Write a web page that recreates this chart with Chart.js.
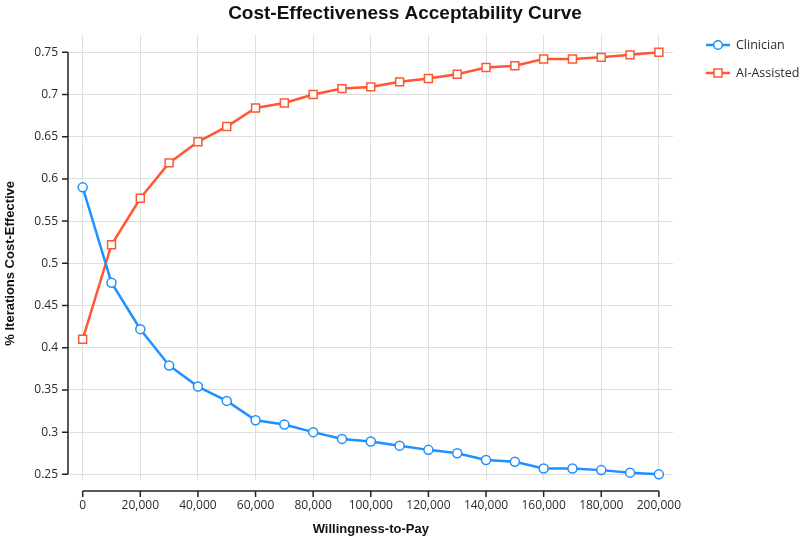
<!DOCTYPE html>
<html>
<head>
<meta charset="utf-8">
<script src="https://cdn.jsdelivr.net/npm/chart.js@4/dist/chart.umd.min.js"></script>
<style>
  html, body { margin: 0; padding: 0; background: #ffffff; }
  #wrap { width: 800px; height: 540px; }
</style>
</head>
<body>
<div id="wrap"><canvas id="c" width="800" height="540"></canvas></div>
<script>
// ---- Data ----
const wtp = [0, 10000, 20000, 30000, 40000, 50000, 60000, 70000, 80000, 90000, 100000,
             110000, 120000, 130000, 140000, 150000, 160000, 170000, 180000, 190000, 200000];
const clinician = [0.590, 0.477, 0.422, 0.379, 0.354, 0.337, 0.314, 0.309, 0.300, 0.292, 0.289,
                   0.284, 0.279, 0.275, 0.267, 0.265, 0.257, 0.257, 0.255, 0.252, 0.250];
const aiAssisted = [0.410, 0.522, 0.577, 0.619, 0.644, 0.662, 0.684, 0.690, 0.700, 0.707, 0.709,
                    0.715, 0.719, 0.724, 0.732, 0.734, 0.742, 0.742, 0.744, 0.747, 0.750];
const seriesNames = ["Clinician", "AI-Assisted"];
const xTicks = [0, 20000, 40000, 60000, 80000, 100000, 120000, 140000, 160000, 180000, 200000];
const yTicks = [0.25, 0.3, 0.35, 0.4, 0.45, 0.5, 0.55, 0.6, 0.65, 0.7, 0.75];
const titleText = "Cost-Effectiveness Acceptability Curve";
const xTitle = "Willingness-to-Pay";
const yTitle = "% Iterations Cost-Effective";

const BLUE = "#1E90FF";
const RED = "#FF5733";
const TEXT = "#2b2b2b";
const AXIS = "#222222";
const GRID = "#dedede";
const tickFont = { family: "'Open Sans', 'Noto Sans', sans-serif", size: 12 };

function toPoints(xs, ys) { return xs.map((x, i) => ({ x: x, y: ys[i] })); }

const decorPlugin = {
  id: 'decor',
  afterDraw(chart) {
    const ctx = chart.ctx;
    const xs = chart.scales.x, ys = chart.scales.y;
    const area = chart.chartArea;
    ctx.save();
    // Y axis line and ticks
    ctx.strokeStyle = AXIS;
    ctx.lineWidth = 1.5;
    const yTop = ys.getPixelForValue(yTicks[yTicks.length - 1]);
    const yBot = ys.getPixelForValue(yTicks[0]);
    const ax = area.left;
    ctx.beginPath();
    ctx.moveTo(ax, yTop); ctx.lineTo(ax, yBot);
    yTicks.forEach(v => {
      const p = ys.getPixelForValue(v);
      ctx.moveTo(ax - 6, p); ctx.lineTo(ax, p);
    });
    ctx.stroke();
    // X axis line and ticks
    const ay = area.bottom + 11;
    const xL = xs.getPixelForValue(xTicks[0]);
    const xR = xs.getPixelForValue(xTicks[xTicks.length - 1]);
    ctx.beginPath();
    ctx.moveTo(xL, ay); ctx.lineTo(xR, ay);
    xTicks.forEach(v => {
      const p = xs.getPixelForValue(v);
      ctx.moveTo(p, ay); ctx.lineTo(p, ay + 6);
    });
    ctx.stroke();

    // Title
    ctx.fillStyle = "#111111";
    ctx.font = "bold 19px 'Liberation Sans', Arial, sans-serif";
    ctx.textAlign = 'center';
    ctx.textBaseline = 'alphabetic';
    ctx.fillText(titleText, 405, 19);

    // X title
    ctx.font = "bold 13px 'Liberation Sans', Arial, sans-serif";
    ctx.fillStyle = "#111111";
    ctx.fillText(xTitle, (xL + xR) / 2, 533);

    // Y title
    ctx.save();
    ctx.translate(14, (yTop + yBot) / 2);
    ctx.rotate(-Math.PI / 2);
    ctx.textAlign = 'center';
    ctx.textBaseline = 'alphabetic';
    ctx.fillText(yTitle, 0, 0);
    ctx.restore();

    // Legend
    chart.data.datasets.forEach((ds, i) => {
      const ly = 45 + i * 28;
      ctx.strokeStyle = ds.borderColor;
      ctx.lineWidth = 2.5;
      ctx.beginPath();
      ctx.moveTo(706, ly); ctx.lineTo(730, ly);
      ctx.stroke();
      ctx.fillStyle = '#ffffff';
      ctx.lineWidth = 1.5;
      ctx.beginPath();
      if (ds.pointStyle === 'rect') {
        ctx.rect(718 - 4, ly - 4, 8, 8);
      } else {
        ctx.arc(718, ly, 4.3, 0, Math.PI * 2);
      }
      ctx.fill();
      ctx.stroke();
      ctx.fillStyle = TEXT;
      ctx.font = "12.5px 'Open Sans', 'Noto Sans', sans-serif";
      ctx.textAlign = 'left';
      ctx.textBaseline = 'middle';
      ctx.fillText(ds.label, 736, ly);
    });
    ctx.restore();
  }
};

new Chart(document.getElementById('c'), {
  type: 'line',
  data: {
    datasets: [
      {
        label: seriesNames[0],
        data: toPoints(wtp, clinician),
        borderColor: BLUE,
        backgroundColor: '#ffffff',
        borderWidth: 2.5,
        pointStyle: 'circle',
        pointRadius: 4.5,
        pointBorderWidth: 1.5,
        pointBackgroundColor: '#ffffff',
        pointBorderColor: BLUE,
        tension: 0
      },
      {
        label: seriesNames[1],
        data: toPoints(wtp, aiAssisted),
        borderColor: RED,
        backgroundColor: '#ffffff',
        borderWidth: 2.5,
        pointStyle: 'rect',
        pointRadius: 5.6,
        pointBorderWidth: 1.5,
        pointBackgroundColor: '#ffffff',
        pointBorderColor: RED,
        tension: 0
      }
    ]
  },
  options: {
    responsive: false,
    animation: false,
    layout: { padding: { top: 35, right: 127, left: 0, bottom: 0 } },
    plugins: { legend: { display: false }, title: { display: false }, tooltip: { enabled: false } },
    scales: {
      x: {
        type: 'linear',
        min: -5100,
        max: 204900,
        afterBuildTicks(scale) { scale.ticks = xTicks.map(v => ({ value: v })); },
        afterFit(scale) { scale.height = 60; },
        grid: { color: GRID, lineWidth: 1, drawTicks: false },
        border: { display: false },
        ticks: {
          color: TEXT,
          font: tickFont,
          padding: 18,
          maxRotation: 0,
          autoSkip: false,
          callback: v => Number(v).toLocaleString('en-US')
        }
      },
      y: {
        type: 'linear',
        min: 0.2433,
        max: 0.7705,
        afterBuildTicks(scale) { scale.ticks = yTicks.map(v => ({ value: v })); },
        afterFit(scale) { scale.width = 68; },
        grid: { color: GRID, lineWidth: 1, drawTicks: false },
        border: { display: false },
        ticks: {
          color: TEXT,
          font: tickFont,
          padding: 10,
          autoSkip: false,
          callback: v => String(Number(v.toFixed(2)))
        }
      }
    }
  },
  plugins: [decorPlugin]
});
</script>
</body>
</html>
